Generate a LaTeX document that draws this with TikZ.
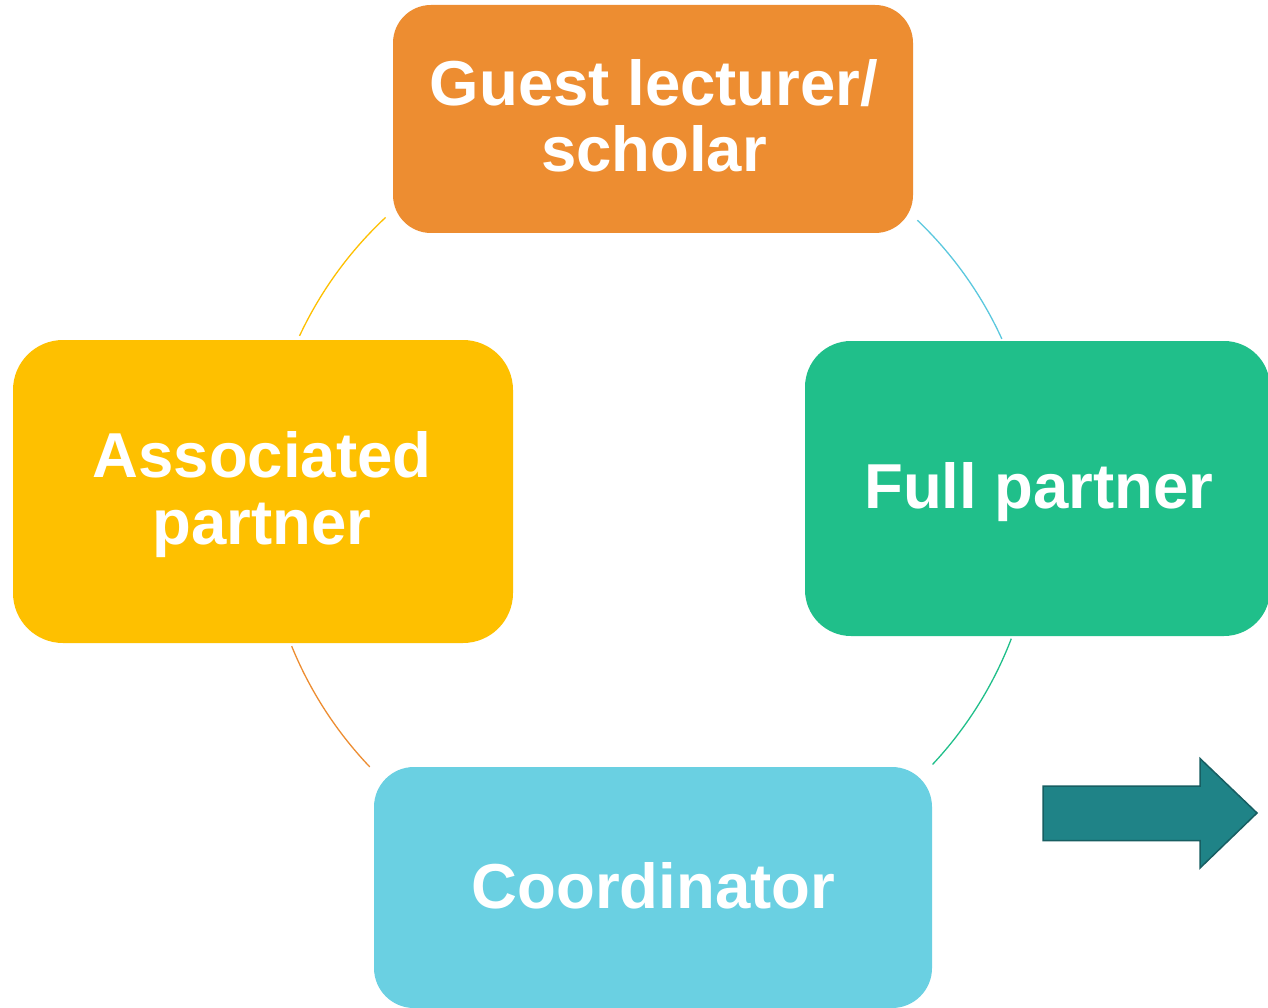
\documentclass[tikz,border=0pt]{standalone}
\usepackage{fontspec}
\setmainfont{Liberation Sans}
\definecolor{cOrange}{HTML}{ED8D31}
\definecolor{cYellow}{HTML}{FEC000}
\definecolor{cGreen}{HTML}{20BF8A}
\definecolor{cBlue}{HTML}{6AD0E2}
\definecolor{cArcBlue}{HTML}{5BC8DE}
\definecolor{cTeal}{HTML}{1F8387}
\definecolor{cTealDark}{HTML}{175E62}
\begin{document}
\begin{tikzpicture}[x=1pt,y=-1pt,
  boxshape/.style={draw=none,inner sep=0pt},
  lbl/.style={text=white,align=center,inner sep=0pt,font=\fontsize{63.5}{66.5}\selectfont\bfseries},
  ring/.style={line width=1.3pt}]
\useasboundingbox (0,0) rectangle (1268,1008);
\fill[white] (0,0) rectangle (1268,1008);
% boxes
\node[boxshape,fill=cOrange,rounded corners=38pt,minimum width=520pt,minimum height=228pt] (guest) at (653,119) {};
\node[boxshape,fill=cYellow,rounded corners=50pt,minimum width=500pt,minimum height=303pt] (assoc) at (263,491.5) {};
\node[boxshape,fill=cGreen,rounded corners=46pt,minimum width=465pt,minimum height=295pt] (full) at (1037.5,488.5) {};
\node[boxshape,fill=cBlue,rounded corners=40pt,minimum width=558pt,minimum height=241pt] (coord) at (653,887.5) {};
% labels
\node[lbl] (guestT) at (654,116) {Guest lecturer/\\scholar};
\node[lbl] (assocT) at (262,494.8) {Associated\\partner};
\node[lbl] (fullT) at (1039,491.8) {Full partner};
\node[lbl] (coordT) at (653.5,885.8) {Coordinator};
% ring arcs
\coordinate (C) at (650,500);
\draw[ring,cArcBlue] (C) ++(-46.3:387) arc[start angle=-46.3,end angle=-24.6,radius=387];
\draw[ring,cGreen] (C) ++(21:387) arc[start angle=21,end angle=43.1,radius=387];
\draw[ring,cOrange] (C) ++(136.4:387) arc[start angle=136.4,end angle=157.8,radius=387];
\draw[ring,cYellow] (C) ++(-154.9:387) arc[start angle=-154.9,end angle=-133.1,radius=387];
% block arrow
\draw[fill=cTeal,draw=cTealDark,line width=1.5pt,line join=miter]
  (1043,786) -- (1200,786) -- (1200,758.5) -- (1257,813) -- (1200,868) -- (1200,840.5) -- (1043,840.5) -- cycle;
\end{tikzpicture}
\end{document}
